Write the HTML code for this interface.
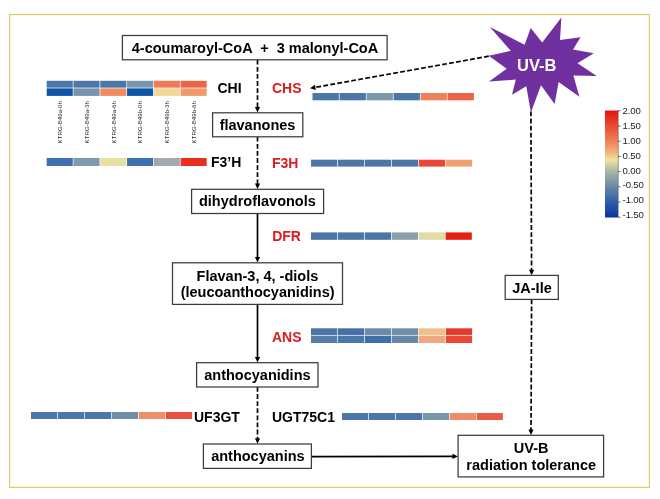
<!DOCTYPE html>
<html><head><meta charset="utf-8"><style>
html,body{margin:0;padding:0;background:#fff;}
svg{display:block;will-change:transform;filter:blur(0.3px);}
</style></head><body>
<svg width="660" height="499" viewBox="0 0 660 499">
<rect width="660" height="499" fill="#fff"/>
<rect x="9.5" y="14.5" width="640" height="473" fill="none" stroke="#dcc583" stroke-width="1"/>
<rect x="10.5" y="15.5" width="638" height="471" fill="none" stroke="#fffbc4" stroke-width="1"/>
<line x1="257.5" y1="59.8" x2="257.50" y2="108.60" stroke="#000" stroke-width="1.7" stroke-dasharray="4.8 2.3"/><polygon points="257.50,112.60 254.90,107.10 260.10,107.10" fill="#000"/>
<line x1="257.5" y1="136.8" x2="257.50" y2="185.10" stroke="#000" stroke-width="1.7" stroke-dasharray="4.8 2.3"/><polygon points="257.50,189.10 254.90,183.60 260.10,183.60" fill="#000"/>
<line x1="257.5" y1="213.5" x2="257.50" y2="258.60" stroke="#000" stroke-width="1.7"/><polygon points="257.50,262.60 254.90,257.10 260.10,257.10" fill="#000"/>
<line x1="257.5" y1="304.4" x2="257.50" y2="358.50" stroke="#000" stroke-width="1.7"/><polygon points="257.50,362.50 254.90,357.00 260.10,357.00" fill="#000"/>
<line x1="257.5" y1="387" x2="257.50" y2="439.80" stroke="#000" stroke-width="1.7" stroke-dasharray="4.8 2.3"/><polygon points="257.50,443.80 254.90,438.30 260.10,438.30" fill="#000"/>
<line x1="311.4" y1="456.6" x2="454.00" y2="456.41" stroke="#000" stroke-width="1.7"/><polygon points="458.00,456.40 452.50,459.01 452.50,453.81" fill="#000"/>
<line x1="488.8" y1="56.2" x2="313.94" y2="87.59" stroke="#000" stroke-width="1.7" stroke-dasharray="4.8 2.3"/><polygon points="310.00,88.30 314.95,84.77 315.87,89.89" fill="#000"/>
<line x1="530.9" y1="111.5" x2="531.58" y2="271.20" stroke="#000" stroke-width="1.7" stroke-dasharray="4.8 2.3"/><polygon points="531.60,275.20 528.98,269.71 534.18,269.69" fill="#000"/>
<line x1="531.6" y1="299.4" x2="531.02" y2="431.10" stroke="#000" stroke-width="1.7" stroke-dasharray="4.8 2.3"/><polygon points="531.00,435.10 528.42,429.59 533.62,429.61" fill="#000"/>
<rect x="122.4" y="35.5" width="264.70000000000005" height="24.299999999999997" fill="#fff" stroke="#3c3c3c" stroke-width="1.25"/>
<rect x="212.6" y="112.8" width="90.20000000000002" height="24.000000000000014" fill="#fff" stroke="#3c3c3c" stroke-width="1.25"/>
<rect x="191.6" y="189.3" width="132.00000000000003" height="24.19999999999999" fill="#fff" stroke="#3c3c3c" stroke-width="1.25"/>
<rect x="172.5" y="262.8" width="170.0" height="41.599999999999966" fill="#fff" stroke="#3c3c3c" stroke-width="1.25"/>
<rect x="196.6" y="362.7" width="121.4" height="24.30000000000001" fill="#fff" stroke="#3c3c3c" stroke-width="1.25"/>
<rect x="203.4" y="444" width="107.99999999999997" height="24.399999999999977" fill="#fff" stroke="#3c3c3c" stroke-width="1.25"/>
<rect x="458.1" y="435.3" width="145.5" height="41.599999999999966" fill="#fff" stroke="#3c3c3c" stroke-width="1.25"/>
<rect x="505.2" y="275.4" width="53.099999999999966" height="24.0" fill="#fff" stroke="#3c3c3c" stroke-width="1.25"/>
<polygon points="489.9,27.1 524.6,44.7 530.7,28 542.2,42.5 561.4,17.6 560,40.1 580.6,37.3 573,49.4 593.7,53.3 577.5,63.3 596.7,76 573.4,75.4 579.4,96.8 558.6,82 554.6,104 541,85.2 530.9,112.5 526.3,86.2 512,94.7 515.8,79.6 489.1,81.4 506.7,68.8 488.8,55.8 510.8,50.8" fill="#7030a0"/>
<text x="255" y="53.4" font-family="Liberation Sans, sans-serif" font-weight="bold" font-size="14.5" text-anchor="middle" fill="#000" xml:space="preserve">4-coumaroyl-CoA  +  3 malonyl-CoA</text>
<text x="257.5" y="129.5" font-family="Liberation Sans, sans-serif" font-weight="bold" font-size="14.5" text-anchor="middle" fill="#000" xml:space="preserve">flavanones</text>
<text x="257.4" y="206.3" font-family="Liberation Sans, sans-serif" font-weight="bold" font-size="14.5" text-anchor="middle" fill="#000" xml:space="preserve">dihydroflavonols</text>
<text x="257.4" y="280.8" font-family="Liberation Sans, sans-serif" font-weight="bold" font-size="14.5" text-anchor="middle" fill="#000" xml:space="preserve">Flavan-3, 4, -diols</text>
<text x="257.6" y="297.3" font-family="Liberation Sans, sans-serif" font-weight="bold" font-size="14.5" text-anchor="middle" fill="#000" xml:space="preserve">(leucoanthocyanidins)</text>
<text x="257.4" y="379.5" font-family="Liberation Sans, sans-serif" font-weight="bold" font-size="14.5" text-anchor="middle" fill="#000" xml:space="preserve">anthocyanidins</text>
<text x="257.9" y="461.1" font-family="Liberation Sans, sans-serif" font-weight="bold" font-size="14.5" text-anchor="middle" fill="#000" xml:space="preserve">anthocyanins</text>
<text x="531.2" y="452.5" font-family="Liberation Sans, sans-serif" font-weight="bold" font-size="14.5" text-anchor="middle" fill="#000" xml:space="preserve">UV-B</text>
<text x="531.2" y="470.4" font-family="Liberation Sans, sans-serif" font-weight="bold" font-size="14.5" text-anchor="middle" fill="#000" xml:space="preserve">radiation tolerance</text>
<text x="532" y="292.6" font-family="Liberation Sans, sans-serif" font-weight="bold" font-size="14.5" text-anchor="middle" fill="#000" xml:space="preserve">JA-Ile</text>
<text x="536.7" y="71.3" font-family="Liberation Sans, sans-serif" font-weight="bold" font-size="16.5" text-anchor="middle" fill="#fff" xml:space="preserve">UV-B</text>
<text x="217.5" y="93.3" font-family="Liberation Sans, sans-serif" font-weight="bold" font-size="14" text-anchor="start" fill="#000" xml:space="preserve">CHI</text>
<text x="272" y="93.2" font-family="Liberation Sans, sans-serif" font-weight="bold" font-size="14" text-anchor="start" fill="#dd1b20" xml:space="preserve">CHS</text>
<text x="211" y="166.5" font-family="Liberation Sans, sans-serif" font-weight="bold" font-size="14" text-anchor="start" fill="#000" xml:space="preserve">F3’H</text>
<text x="272" y="167.5" font-family="Liberation Sans, sans-serif" font-weight="bold" font-size="14" text-anchor="start" fill="#dd1b20" xml:space="preserve">F3H</text>
<text x="272.2" y="240.8" font-family="Liberation Sans, sans-serif" font-weight="bold" font-size="14" text-anchor="start" fill="#dd1b20" xml:space="preserve">DFR</text>
<text x="272" y="341.8" font-family="Liberation Sans, sans-serif" font-weight="bold" font-size="14" text-anchor="start" fill="#dd1b20" xml:space="preserve">ANS</text>
<text x="194" y="422.2" font-family="Liberation Sans, sans-serif" font-weight="bold" font-size="14" text-anchor="start" fill="#000" xml:space="preserve">UF3GT</text>
<text x="272" y="422.2" font-family="Liberation Sans, sans-serif" font-weight="bold" font-size="14" text-anchor="start" fill="#000" xml:space="preserve">UGT75C1</text>
<rect x="46.70" y="80.80" width="26.08" height="6.85" fill="#4a76a8"/>
<rect x="73.48" y="80.80" width="26.08" height="6.85" fill="#4a76a8"/>
<rect x="100.27" y="80.80" width="26.08" height="6.85" fill="#4a76a8"/>
<rect x="127.05" y="80.80" width="26.08" height="6.85" fill="#7896ac"/>
<rect x="153.83" y="80.80" width="26.08" height="6.85" fill="#f07a55"/>
<rect x="180.62" y="80.80" width="26.08" height="6.85" fill="#ec6446"/>
<rect x="46.70" y="88.35" width="26.08" height="7.55" fill="#0f55a5"/>
<rect x="73.48" y="88.35" width="26.08" height="7.55" fill="#7894ac"/>
<rect x="100.27" y="88.35" width="26.08" height="7.55" fill="#f08c62"/>
<rect x="127.05" y="88.35" width="26.08" height="7.55" fill="#0f55a5"/>
<rect x="153.83" y="88.35" width="26.08" height="7.55" fill="#f2d898"/>
<rect x="180.62" y="88.35" width="26.08" height="7.55" fill="#f29a6c"/>
<rect x="46.70" y="158.00" width="26.08" height="8.00" fill="#3f6fae"/>
<rect x="73.48" y="158.00" width="26.08" height="8.00" fill="#7f9ab0"/>
<rect x="100.27" y="158.00" width="26.08" height="8.00" fill="#e8e0a0"/>
<rect x="127.05" y="158.00" width="26.08" height="8.00" fill="#3f6fae"/>
<rect x="153.83" y="158.00" width="26.08" height="8.00" fill="#a0aab0"/>
<rect x="180.62" y="158.00" width="26.08" height="8.00" fill="#e83020"/>
<rect x="312.50" y="93.00" width="26.32" height="7.30" fill="#4a76a8"/>
<rect x="339.52" y="93.00" width="26.32" height="7.30" fill="#4a76a8"/>
<rect x="366.53" y="93.00" width="26.32" height="7.30" fill="#7a98aa"/>
<rect x="393.55" y="93.00" width="26.32" height="7.30" fill="#4a76a8"/>
<rect x="420.57" y="93.00" width="26.32" height="7.30" fill="#f08058"/>
<rect x="447.58" y="93.00" width="26.32" height="7.30" fill="#ee6448"/>
<rect x="311.00" y="159.70" width="26.27" height="6.90" fill="#4a76a8"/>
<rect x="337.97" y="159.70" width="26.27" height="6.90" fill="#4a76a8"/>
<rect x="364.93" y="159.70" width="26.27" height="6.90" fill="#4a76a8"/>
<rect x="391.90" y="159.70" width="26.27" height="6.90" fill="#4a76a8"/>
<rect x="418.87" y="159.70" width="26.27" height="6.90" fill="#e84838"/>
<rect x="445.83" y="159.70" width="26.27" height="6.90" fill="#f0a070"/>
<rect x="311.00" y="232.40" width="26.22" height="7.40" fill="#4a76a8"/>
<rect x="337.92" y="232.40" width="26.22" height="7.40" fill="#4a76a8"/>
<rect x="364.83" y="232.40" width="26.22" height="7.40" fill="#4a76a8"/>
<rect x="391.75" y="232.40" width="26.22" height="7.40" fill="#8aa0ac"/>
<rect x="418.67" y="232.40" width="26.22" height="7.40" fill="#e0dca8"/>
<rect x="445.58" y="232.40" width="26.22" height="7.40" fill="#e82010"/>
<rect x="311.00" y="328.30" width="26.27" height="6.65" fill="#4a74a4"/>
<rect x="337.97" y="328.30" width="26.27" height="6.65" fill="#4570a8"/>
<rect x="364.93" y="328.30" width="26.27" height="6.65" fill="#6a8aa8"/>
<rect x="391.90" y="328.30" width="26.27" height="6.65" fill="#7090a8"/>
<rect x="418.87" y="328.30" width="26.27" height="6.65" fill="#f0c088"/>
<rect x="445.83" y="328.30" width="26.27" height="6.65" fill="#e83a2a"/>
<rect x="311.00" y="335.65" width="26.27" height="7.35" fill="#5a7ca8"/>
<rect x="337.97" y="335.65" width="26.27" height="7.35" fill="#4a78a8"/>
<rect x="364.93" y="335.65" width="26.27" height="7.35" fill="#4070a8"/>
<rect x="391.90" y="335.65" width="26.27" height="7.35" fill="#6888a8"/>
<rect x="418.87" y="335.65" width="26.27" height="7.35" fill="#f0a880"/>
<rect x="445.83" y="335.65" width="26.27" height="7.35" fill="#e84838"/>
<rect x="31.00" y="412.00" width="26.27" height="7.00" fill="#4a76a8"/>
<rect x="57.97" y="412.00" width="26.27" height="7.00" fill="#4a76a8"/>
<rect x="84.93" y="412.00" width="26.27" height="7.00" fill="#4a76a8"/>
<rect x="111.90" y="412.00" width="26.27" height="7.00" fill="#7090a8"/>
<rect x="138.87" y="412.00" width="26.27" height="7.00" fill="#f09068"/>
<rect x="165.83" y="412.00" width="26.27" height="7.00" fill="#e85040"/>
<rect x="342.00" y="413.00" width="26.23" height="7.00" fill="#4a76a8"/>
<rect x="368.93" y="413.00" width="26.23" height="7.00" fill="#4a76a8"/>
<rect x="395.87" y="413.00" width="26.23" height="7.00" fill="#4a76a8"/>
<rect x="422.80" y="413.00" width="26.23" height="7.00" fill="#7896ac"/>
<rect x="449.73" y="413.00" width="26.23" height="7.00" fill="#f08a68"/>
<rect x="476.67" y="413.00" width="26.23" height="7.00" fill="#ea5c44"/>
<text transform="translate(62.10,143.4) rotate(-90)" font-family="Liberation Sans, sans-serif" font-size="6.15" fill="#2a2a2a">KTRG-B49a-0h</text>
<text transform="translate(88.80,143.4) rotate(-90)" font-family="Liberation Sans, sans-serif" font-size="6.15" fill="#2a2a2a">KTRG-B49a-3h</text>
<text transform="translate(115.50,143.4) rotate(-90)" font-family="Liberation Sans, sans-serif" font-size="6.15" fill="#2a2a2a">KTRG-B49a-6h</text>
<text transform="translate(142.20,143.4) rotate(-90)" font-family="Liberation Sans, sans-serif" font-size="6.15" fill="#2a2a2a">KTRG-B49b-0h</text>
<text transform="translate(168.90,143.4) rotate(-90)" font-family="Liberation Sans, sans-serif" font-size="6.15" fill="#2a2a2a">KTRG-B49b-3h</text>
<text transform="translate(195.60,143.4) rotate(-90)" font-family="Liberation Sans, sans-serif" font-size="6.15" fill="#2a2a2a">KTRG-B49b-6h</text>
<defs><linearGradient id="cb" x1="0" y1="0" x2="0" y2="1"><stop offset="0" stop-color="#e8120e"/><stop offset="0.143" stop-color="#e84a34"/><stop offset="0.286" stop-color="#f08058"/><stop offset="0.39" stop-color="#f2b27c"/><stop offset="0.46" stop-color="#efe4a0"/><stop offset="0.571" stop-color="#aab4a4"/><stop offset="0.714" stop-color="#6888a8"/><stop offset="0.857" stop-color="#2e5ea8"/><stop offset="1" stop-color="#0832a0"/></linearGradient></defs>
<rect x="605" y="110.5" width="13" height="107" fill="url(#cb)"/>
<line x1="618.3" y1="110.5" x2="618.3" y2="217.5" stroke="#555" stroke-width="0.6"/>
<line x1="618" y1="110.80" x2="620.5" y2="110.80" stroke="#444" stroke-width="0.8"/>
<text x="622.6" y="114.40" font-family="Liberation Sans, sans-serif" font-size="9.6" letter-spacing="-0.15" fill="#222">2.00</text>
<line x1="618" y1="126.00" x2="620.5" y2="126.00" stroke="#444" stroke-width="0.8"/>
<text x="622.6" y="129.20" font-family="Liberation Sans, sans-serif" font-size="9.6" letter-spacing="-0.15" fill="#222">1.50</text>
<line x1="618" y1="141.20" x2="620.5" y2="141.20" stroke="#444" stroke-width="0.8"/>
<text x="622.6" y="144.00" font-family="Liberation Sans, sans-serif" font-size="9.6" letter-spacing="-0.15" fill="#222">1.00</text>
<line x1="618" y1="156.40" x2="620.5" y2="156.40" stroke="#444" stroke-width="0.8"/>
<text x="622.6" y="158.80" font-family="Liberation Sans, sans-serif" font-size="9.6" letter-spacing="-0.15" fill="#222">0.50</text>
<line x1="618" y1="171.60" x2="620.5" y2="171.60" stroke="#444" stroke-width="0.8"/>
<text x="622.6" y="173.60" font-family="Liberation Sans, sans-serif" font-size="9.6" letter-spacing="-0.15" fill="#222">0.00</text>
<line x1="618" y1="186.80" x2="620.5" y2="186.80" stroke="#444" stroke-width="0.8"/>
<text x="622.6" y="188.40" font-family="Liberation Sans, sans-serif" font-size="9.6" letter-spacing="-0.15" fill="#222">-0.50</text>
<line x1="618" y1="202.00" x2="620.5" y2="202.00" stroke="#444" stroke-width="0.8"/>
<text x="622.6" y="203.20" font-family="Liberation Sans, sans-serif" font-size="9.6" letter-spacing="-0.15" fill="#222">-1.00</text>
<line x1="618" y1="217.20" x2="620.5" y2="217.20" stroke="#444" stroke-width="0.8"/>
<text x="622.6" y="218.00" font-family="Liberation Sans, sans-serif" font-size="9.6" letter-spacing="-0.15" fill="#222">-1.50</text>
</svg>
</body></html>
